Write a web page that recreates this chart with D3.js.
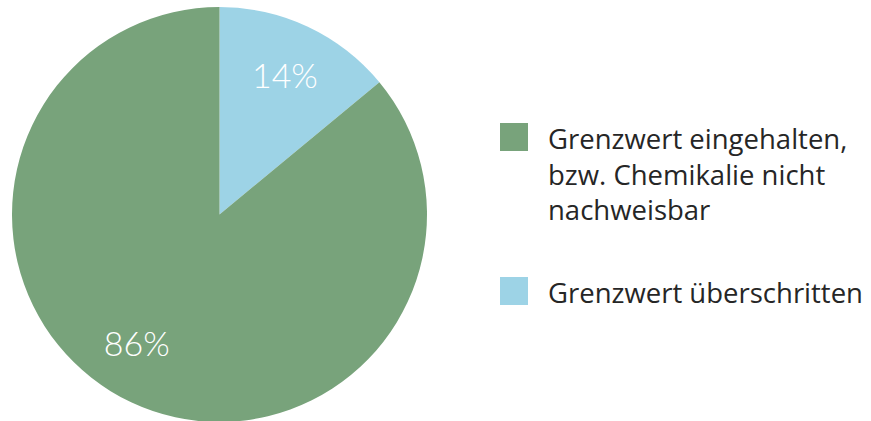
<!DOCTYPE html>
<html>
<head>
<meta charset="utf-8">
<script src="https://cdn.jsdelivr.net/npm/d3@7"></script>
<style>
  html, body { margin: 0; padding: 0; background: #fff; }
  svg { display: block; }
  .val { font-family: Lato, "Open Sans", sans-serif; }
  .leg { font-family: "Open Sans", "DejaVu Sans", sans-serif; }
</style>
</head>
<body>
<svg id="chart" width="871" height="421"></svg>
<script>
// Anteil der Proben
const categories = ["Grenzwert überschritten", "Grenzwert eingehalten, bzw. Chemikalie nicht nachweisbar"];
const values = [14, 86];
const colors = ["#9dd3e6", "#78a37b"];
const valueLabels = ["14%", "86%"];

// Legend entries, each with wrapped lines
const legendOrder = [1, 0];
const legendLines = [
  ["Grenzwert überschritten"],
  ["Grenzwert eingehalten,", "bzw. Chemikalie nicht", "nachweisbar"]
];

const svg = d3.select("#chart");
const cx = 219.5, cy = 214.5, r = 207.5;

const pie = d3.pie().sort(null).value(d => d)(values);
const arc = d3.arc().innerRadius(0).outerRadius(r);

const g = svg.append("g").attr("transform", `translate(${cx},${cy})`);
g.selectAll("path.slice")
  .data(pie)
  .join("path")
  .attr("class", "slice")
  .attr("d", arc)
  .attr("fill", (d, i) => colors[i]);

// Percent labels inside slices (radius fraction and angular nudge per slice)
const labelRadius = 0.74;
const labelNudge = [0, 0.13];
g.selectAll("text.val")
  .data(pie)
  .join("text")
  .attr("class", "val")
  .attr("transform", (d, i) => {
    const a = (d.startAngle + d.endAngle) / 2 + labelNudge[i];
    const x = Math.sin(a) * r * labelRadius;
    const y = -Math.cos(a) * r * labelRadius;
    return `translate(${x},${y})`;
  })
  .attr("text-anchor", "middle")
  .attr("dy", "0.36em")
  .attr("fill", "#fff")
  .attr("font-size", 34)
  .attr("font-weight", 300)
  .text((d, i) => valueLabels[i]);

// Legend
const legend = svg.append("g").attr("transform", "translate(500,0)");
const legendTops = [123, 277];
legendOrder.forEach((idx, k) => {
  const item = legend.append("g").attr("transform", `translate(0,${legendTops[k]})`);
  item.append("rect")
    .attr("width", 28).attr("height", 28)
    .attr("fill", colors[idx]);
  const t = item.append("text")
    .attr("class", "leg")
    .attr("x", 48)
    .attr("y", 26)
    .attr("fill", "#262626")
    .attr("font-size", 27.5);
  legendLines[idx].forEach((line, j) => {
    t.append("tspan").attr("x", 48).attr("dy", j === 0 ? 0 : 35.5).text(line);
  });
});
</script>
</body>
</html>
